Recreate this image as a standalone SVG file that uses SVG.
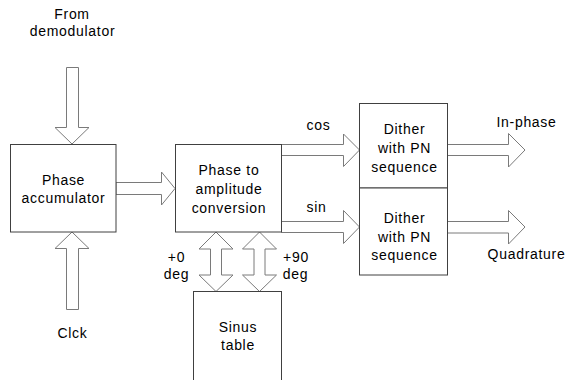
<svg xmlns="http://www.w3.org/2000/svg" width="569" height="380" viewBox="0 0 569 380">
<style>
.box{fill:#fff;stroke:#404040;stroke-width:1}
.arr{fill:#fff;stroke:#7a7a7a;stroke-width:1;stroke-linejoin:miter}
text{font-family:"Liberation Sans",Arial,sans-serif;font-size:14px;fill:#000;text-anchor:middle;letter-spacing:0.7px}
</style>
<rect width="569" height="380" fill="#fff"/>
<g id="connectors">
<polygon class="arr" points="66.5,67.5 78.5,67.5 78.5,127.5 89,127.5 72,144 55,127.5 66.5,127.5"/>
<polygon class="arr" points="72,232 89,248.5 78.5,248.5 78.5,309.5 66.5,309.5 66.5,248.5 55,248.5"/>
<polygon class="arr" points="116,182.5 161.5,182.5 161.5,172 175,188.5 161.5,205 161.5,194.5 116,194.5"/>
<polygon class="arr" points="281.5,144.5 343.5,144.5 343.5,134 359.5,150 343.5,166.5 343.5,155.5 281.5,155.5"/>
<polygon class="arr" points="281.5,221.5 343.5,221.5 343.5,210.5 359.5,227 343.5,243.5 343.5,232.5 281.5,232.5"/>
<polygon class="arr" points="447.5,144.5 508.5,144.5 508.5,133.5 525,150 508.5,167 508.5,155.5 447.5,155.5"/>
<polygon class="arr" points="447.5,221.5 508.5,221.5 508.5,210.5 525,227 508.5,244 508.5,233 447.5,233"/>
<polygon class="arr" points="216,232 233,249 221.5,249 221.5,275 233,275 216,291.5 199,275 210.5,275 210.5,249 199,249"/>
<polygon class="arr" points="259.5,232 276.5,249 265,249 265,275 276.5,275 259.5,291.5 242.5,275 254,275 254,249 242.5,249"/>
</g>
<g id="phase-accumulator">
<rect class="box" x="10.5" y="144.5" width="105.5" height="87.5"/>
<text x="63.5" y="185">Phase</text>
<text x="63.5" y="203">accumulator</text>
</g>
<g id="phase-to-amplitude">
<rect class="box" x="175.5" y="144.5" width="106" height="87.5"/>
<text x="229" y="174.5">Phase to</text>
<text x="229" y="193.5">amplitude</text>
<text x="229" y="212.5">conversion</text>
</g>
<g id="sinus-table">
<rect class="box" x="193.5" y="291.5" width="88" height="100"/>
<text x="238" y="331.5">Sinus</text>
<text x="238" y="350">table</text>
</g>
<g id="dither-i">
<rect class="box" x="359.5" y="103.5" width="88" height="84.5"/>
<text x="404.5" y="133.5">Dither</text>
<text x="404.5" y="153">with PN</text>
<text x="404.5" y="171.5">sequence</text>
</g>
<g id="dither-q">
<rect class="box" x="359.5" y="188" width="88" height="87"/>
<text x="404.5" y="223">Dither</text>
<text x="404.5" y="241.5">with PN</text>
<text x="404.5" y="260">sequence</text>
</g>
<g id="labels">
<text x="72" y="19">From</text>
<text x="72.5" y="36">demodulator</text>
<text x="72.5" y="338">Clck</text>
<text x="318.5" y="130">cos</text>
<text x="316.5" y="212">sin</text>
<text x="526.5" y="127">In-phase</text>
<text x="526.5" y="258.5">Quadrature</text>
<text x="176.5" y="261.5">+0</text>
<text x="176.5" y="278.5">deg</text>
<text x="296" y="261.5">+90</text>
<text x="295.5" y="278.5">deg</text>
</g>
</svg>
